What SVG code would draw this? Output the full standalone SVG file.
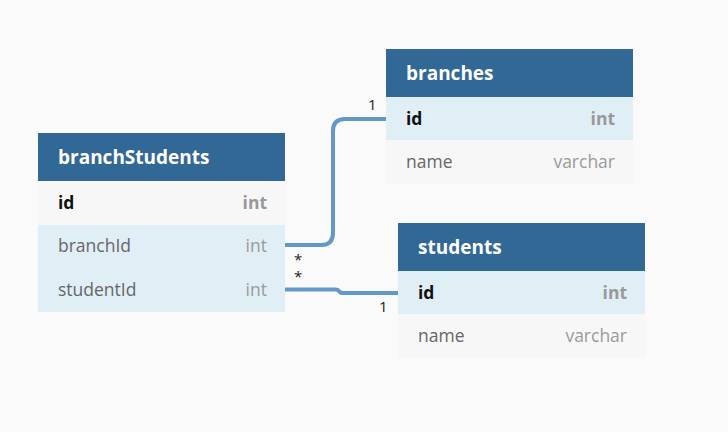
<svg xmlns="http://www.w3.org/2000/svg" width="728" height="432" viewBox="0 0 728 432">
<style>
.hdr{fill:#316896}
.rowA{fill:#f7f7f7}
.rowB{fill:#e0eef6}
.ttl{font-family:"Open Sans",sans-serif;font-weight:bold;font-size:19px;fill:#ffffff}
.pk{font-family:"Open Sans",sans-serif;font-weight:bold;font-size:17.5px;fill:#111111}
.pkt{font-family:"Open Sans",sans-serif;font-weight:bold;font-size:17.5px;fill:#999999;text-anchor:end}
.fld{font-family:"Open Sans",sans-serif;font-size:17.5px;fill:#666666}
.typ{font-family:"Open Sans",sans-serif;font-size:17.5px;fill:#9a9a9a;text-anchor:end}
.edge{fill:none;stroke:#6399c8;stroke-width:4}
.lbl{font-family:"Open Sans",sans-serif;font-size:15px;fill:#222222}
</style>
<rect width="728" height="432" fill="#fafafa"/>
<g id="connectors">
<path class="edge" d="M285,245 H321 Q333,245 333,233 V131 Q333,119 345,119 H386"/>
<path class="edge" d="M285,289.5 H335 Q338,289.5 339,291 Q340,293 343,293 H398"/>
<text class="lbl" x="368" y="110">1</text>
<text class="lbl" x="294" y="265">*</text>
<text class="lbl" x="294" y="282">*</text>
<text class="lbl" x="379" y="312">1</text>
</g>
<g id="branchStudents">
<rect class="hdr" x="38" y="133" width="247" height="48"/>
<rect class="rowA" x="38" y="181" width="247" height="44"/>
<rect class="rowB" x="38" y="225" width="247" height="87"/>
<text class="ttl" x="58" y="164">branchStudents</text>
<text class="pk" x="58" y="209">id</text>
<text class="pkt" x="267" y="209">int</text>
<text class="fld" x="58" y="252">branchId</text>
<text class="typ" x="267" y="252">int</text>
<text class="fld" x="58" y="296">studentId</text>
<text class="typ" x="267" y="296">int</text>
</g>
<g id="branches">
<rect class="hdr" x="386" y="49" width="247" height="48"/>
<rect class="rowB" x="386" y="97" width="247" height="43"/>
<rect class="rowA" x="386" y="140" width="247" height="44"/>
<text class="ttl" x="406" y="80">branches</text>
<text class="pk" x="406" y="125">id</text>
<text class="pkt" x="615" y="125">int</text>
<text class="fld" x="406" y="168">name</text>
<text class="typ" x="615" y="168">varchar</text>
</g>
<g id="students">
<rect class="hdr" x="398" y="223" width="247" height="48"/>
<rect class="rowB" x="398" y="271" width="247" height="43"/>
<rect class="rowA" x="398" y="314" width="247" height="44"/>
<text class="ttl" x="418" y="254">students</text>
<text class="pk" x="418" y="299">id</text>
<text class="pkt" x="627" y="299">int</text>
<text class="fld" x="418" y="342">name</text>
<text class="typ" x="627" y="342">varchar</text>
</g>
</svg>
